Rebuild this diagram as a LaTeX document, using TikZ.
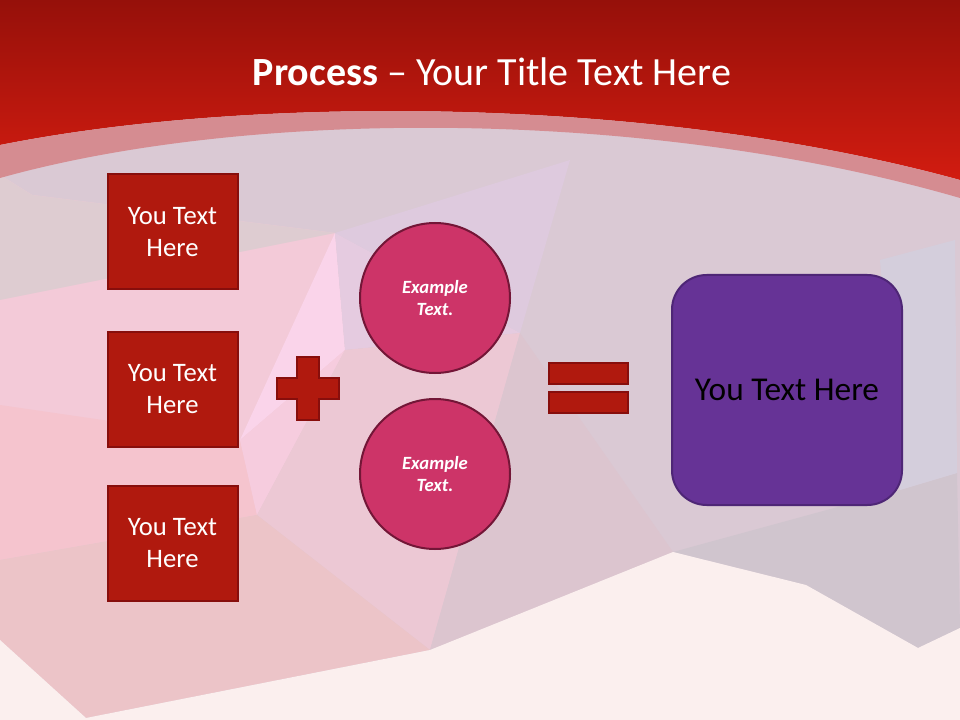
\documentclass[tikz,border=0pt]{standalone}
\usepackage{fontspec}
\setmainfont{Carlito}
\usepackage{tkz-euclide}
\definecolor{BaseClr}{rgb}{0.855,0.788,0.831}
\definecolor{PinkClr}{rgb}{0.953,0.792,0.847}
\definecolor{PinkLtClr}{rgb}{0.98,0.831,0.918}
\definecolor{PinkMdClr}{rgb}{0.965,0.8,0.871}
\definecolor{PinkDkClr}{rgb}{0.961,0.769,0.808}
\definecolor{LavClr}{rgb}{0.871,0.792,0.871}
\definecolor{LavLtClr}{rgb}{0.898,0.796,0.878}
\definecolor{RoseClr}{rgb}{0.925,0.784,0.831}
\definecolor{LowPinkClr}{rgb}{0.925,0.769,0.784}
\definecolor{MauveClr}{rgb}{0.863,0.773,0.812}
\definecolor{GreyClr}{rgb}{0.816,0.773,0.808}
\definecolor{BlueGreyClr}{rgb}{0.831,0.808,0.863}
\definecolor{TopGreyClr}{rgb}{0.871,0.8,0.82}
\definecolor{LightClr}{rgb}{0.984,0.937,0.933}
\definecolor{HeadTopClr}{rgb}{0.588,0.063,0.039}
\definecolor{HeadBotClr}{rgb}{0.824,0.11,0.063}
\definecolor{BandClr}{rgb}{0.835,0.549,0.569}
\definecolor{BoxClr}{rgb}{0.69,0.098,0.055}
\definecolor{BoxLineClr}{rgb}{0.529,0.055,0.047}
\definecolor{CircClr}{rgb}{0.804,0.204,0.408}
\definecolor{CircLineClr}{rgb}{0.451,0.086,0.216}
\definecolor{ResClr}{rgb}{0.4,0.2,0.588}
\definecolor{ResLineClr}{rgb}{0.306,0.149,0.463}

\begin{document}
\begin{tikzpicture}[x=0.75pt,y=-0.75pt,
  youbox/.style={draw=BoxLineClr,fill=BoxClr,line width=1.5pt,minimum width=97.5pt,
    minimum height=86.25pt,inner sep=0pt,align=center,text=white,
    font=\fontsize{20}{24}\selectfont},
  exacirc/.style={circle,draw=CircLineClr,fill=CircClr,line width=1.5pt,minimum size=112.5pt,
    inner sep=0pt,align=center,text=white,font=\fontsize{14}{17}\selectfont\bfseries\itshape},
  eqbar/.style={draw=BoxLineClr,fill=BoxClr,line width=1.2pt,minimum width=59.25pt,
    minimum height=15.75pt,inner sep=0pt},
  resbox/.style={draw=ResLineClr,fill=ResClr,line width=1.5pt,rounded corners=26pt,
    minimum width=172.5pt,minimum height=172.5pt,inner sep=0pt,text=black,
    font=\fontsize{25}{30}\selectfont}]
\useasboundingbox (0,0) rectangle (960,720);

\tkzDefPoints{0/175/p1,32/195/p2,335/233/p3,570/160/p4,345/350/p5,240/440/p6,
  257/515/p7,0/560/p8,520/333/p9,430/650/p10,86/718/p11,0/640/p12,673/552/p13,
  806/585/p14,918/648/p15,960/628/p16,957/473/p17,955/240/p18,880/260/p19,
  900/490/p20,960/720/p21,0/720/p22,0/405/p23,0/0/p24,960/0/p25,0/300/p26}

\tkzFillPolygon[fill=BaseClr](p24,p25,p21,p22)
\tkzFillPolygon[fill=PinkClr](p1,p2,p3,p5,p7,p8)
\tkzFillPolygon[fill=TopGreyClr](p1,p2,p3,p26)
\tkzFillPolygon[fill=PinkDkClr](p23,p6,p7,p8)
\tkzFillPolygon[fill=PinkLtClr](p3,p5,p6)
\tkzFillPolygon[fill=PinkMdClr](p6,p5,p7)
\tkzFillPolygon[fill=LavClr](p3,p4,p9)
\tkzFillPolygon[fill=LavLtClr](p3,p9,p5)
\tkzFillPolygon[fill=RoseClr](p5,p9,p10,p7)
\tkzFillPolygon[fill=LowPinkClr](p8,p7,p10,p11,p12)
\tkzFillPolygon[fill=MauveClr](p9,p13,p10)
\tkzFillPolygon[fill=GreyClr](p13,p14,p15,p16,p17,p20)
\tkzFillPolygon[fill=BlueGreyClr](p19,p18,p17,p20)
\tkzFillPolygon[fill=LightClr](p12,p11,p10,p13,p14,p15,p16,p21,p22)

\shade[top color=HeadTopClr,bottom color=HeadBotClr]
  (0,0) -- (960,0) -- (960,180) .. controls (650,95) and (250,95) .. (0,145) -- cycle;
\fill[BandClr] (0,145) .. controls (250,95) and (650,95) .. (960,180)
  -- (960,198) .. controls (650,108) and (250,108) .. (0,178) -- cycle;

\node[anchor=base,text=white,font=\fontsize{30}{36}\selectfont] (title) at (492,86)
  {\textbf{Process} – Your Title Text Here};

\node[youbox] (you1) at (172.5,232) {You Text\\Here};
\node[youbox] (you2) at (172.5,389) {You Text\\Here};
\node[youbox] (you3) at (172.5,543) {You Text\\Here};

\filldraw[fill=BoxClr,draw=BoxLineClr,line width=1.2pt]
  (297,357) -- (319,357) -- (319,378) -- (339,378) -- (339,399) -- (319,399)
  -- (319,420) -- (297,420) -- (297,399) -- (277,399) -- (277,378) -- (297,378) -- cycle;

\node[exacirc] (ex1) at (435,298) {Example\\Text.};
\node[exacirc] (ex2) at (435,474) {Example\\Text.};

\node[eqbar] (eq1) at (588.5,373.5) {};
\node[eqbar] (eq2) at (588.5,402.5) {};

\node[resbox] (res) at (787,390) {You Text Here};

\end{tikzpicture}
\end{document}
